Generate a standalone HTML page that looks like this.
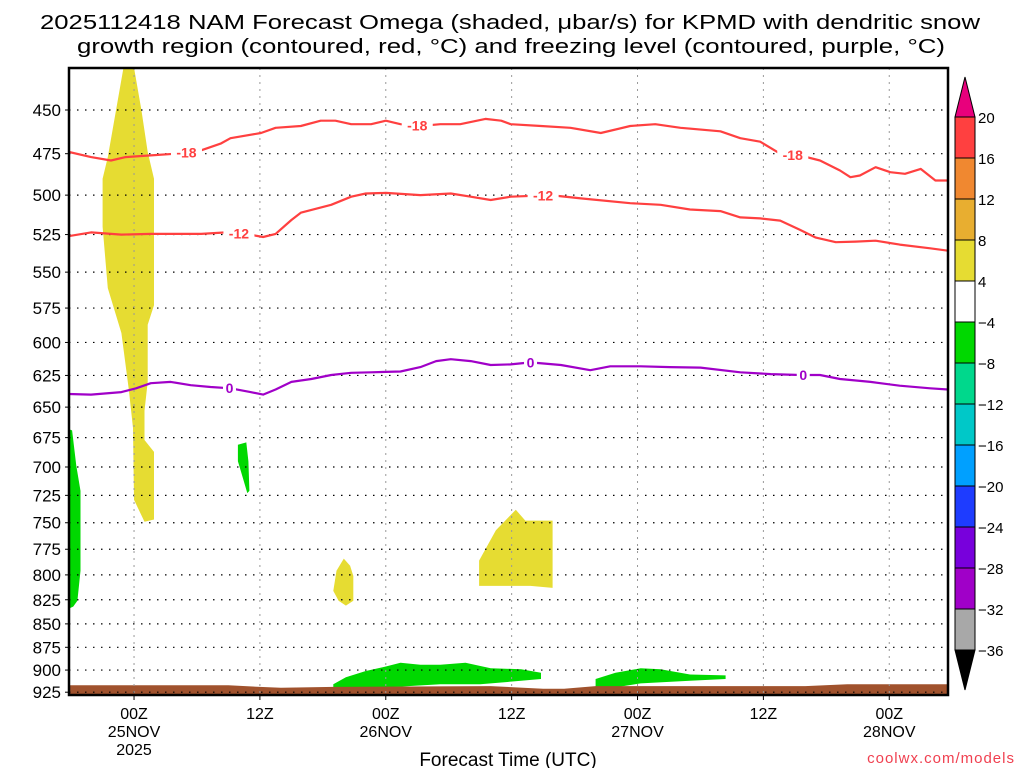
<!DOCTYPE html>
<html><head><meta charset="utf-8"><style>
html,body{margin:0;padding:0;background:#fff;}
svg{display:block;font-family:"Liberation Sans","DejaVu Sans",sans-serif;}
</style></head><body>
<svg id="c" width="1024" height="768" viewBox="0 0 1024 768" xmlns="http://www.w3.org/2000/svg">
<text x="510" y="29" font-size="20" text-anchor="middle" textLength="940" lengthAdjust="spacingAndGlyphs">2025112418 NAM Forecast Omega (shaded, μbar/s) for KPMD with dendritic snow</text>
<text x="511" y="53" font-size="20" text-anchor="middle" textLength="868" lengthAdjust="spacingAndGlyphs">growth region (contoured, red, °C) and freezing level (contoured, purple, °C)</text>
<g id="plot"></g>
<text x="508" y="766" font-size="19" text-anchor="middle">Forecast Time (UTC)</text>
<text x="1015" y="763" font-size="15" text-anchor="end" fill="#f04050" letter-spacing="1">coolwx.com/models</text>
<g id="cbar"></g>
</svg>
<script>
const pTicks=[450,475,500,525,550,575,600,625,650,675,700,725,750,775,800,825,850,875,900,925];
const timeTicks=[6,18,30,42,54,66,78];
const timeLabels=[["00Z","25NOV","2025"],["12Z"],["00Z","26NOV"],["12Z"],["00Z","27NOV"],["12Z"],["00Z","28NOV"]];
const m18H=[-0.2,1.9,3.8,5.2,7.6,10,12.4,14.3,15.2,18.1,19.5,21.9,23.8,25.2,26.7,28.6,30,31.4,33.3,35.2,37.1,39.5,41,41.9,44.8,47.6,50.5,53.3,55.7,58.1,61.9,63.8,65.7,67.6,69.5,71.4,73.3,74.3,75.2,76.7,78.1,79.5,81,82.4,83.6];
const m18P=[474,477,479,477,476,475,473,469,466,463,460,459,456,456,458,458,456,458,459,458,458,455,456,458,459,460,463,459,458,460,462,466,468,475,476,479,485,489,488,483,486,487,484,491,491];
const m12H=[-0.2,1.9,4.8,7.6,12.4,14.8,16.7,18.3,19.5,21,21.9,24.8,26.7,28.1,30,33.3,36.2,38.1,40,41.9,45.7,48.6,53.3,56.2,59,61.9,63.8,65.7,67.6,69.5,71,72.9,74.8,76.7,79,81.9,83.6];
const m12P=[526,523.6,525,524.6,524.6,523.6,524.6,526.6,524.6,515.6,511,506,501,499,498.6,500,499,501,503,501,500,502,505,506,509,510,514,514.6,516,522,527,530,529.6,529,531.6,534,535.6];
const fzH=[-0.2,1.9,4.8,6.2,7.6,9.5,11.4,13.3,15.2,17.1,18.3,19.5,21,22.9,24.8,26.7,28.6,31.4,33.3,34.8,36.2,38.1,40,41.9,43.8,46.7,49.5,51.4,54.3,57.1,60,63.8,66.7,69.5,71.4,73.3,76.2,79,81.9,83.6];
const fzP=[639.5,640,638,635,631,630,632.6,634,635,638,640,636,630,627.8,624.7,623,622.6,622,618.6,614,612.6,614,617,616.5,615,617,621,618,618,618.6,619,622.6,624,624.7,624.7,627.8,630,633,635,636];
const yellow1H=[5.0,6.0,6.7,7.3,7.9,7.9,7.3,7.3,7.0,7.0,7.9,7.9,7.0,6.0,5.9,5.5,4.8,3.5,3.0,3.0,3.5];
const yellow1P=[427,427,450,474,490,573,587,630,653,677,687,747,749,729,667,636,593,561,520,490,477];
const green1H=[-0.2,0.1,0.5,0.9,0.9,0.6,0.2,-0.2];
const green1P=[668,669,699,721,796,826,832,834];
const green2H=[15.9,16.7,16.9,17.0,16.8,16.2,15.9];
const green2P=[681,679,695,721,723,704,695];
const yellow2H=[26,26.6,26.9,26.9,26.2,25.5,25,25.3];
const yellow2P=[784,791,801,826,831,826,816,796];
const yellow3H=[38.9,40.5,42.4,43.3,45.9,45.9,43.8,38.9];
const yellow3P=[786,757,738,748,748,813,811,811];
const green3H=[25,26.2,28.1,30,31.4,33.3,35.2,37.6,40,42.9,44.8,44.8,42.9,39,35.2,25];
const green3P=[916,908,901,896,892,894,894,892,898,899,903,910,912,916,916,923];
const green4H=[50,51.9,54.3,56.2,59,62.4,62.4,59,54.3,50];
const green4P=[910,903,898,899,905,906,910,912,915,923];
const sfcH=[-0.2,15,18,20,25,40,45,47,50,55,70,74,83.6];
const sfcP=[917,917,919,920,919,918,921,921,918,918,918,916,916];
const cbLevels=["20","16","12","8","4","−4","−8","−12","−16","−20","−24","−28","−32","−36"];
const cbColors=["#ff4040","#f08830","#e8ae30","#e6dc32","#ffffff","#00d800","#00d88c","#00c8c8","#00a0ff","#1e3cff","#7800dc","#a000c8","#a8a8a8"];

const NS="http://www.w3.org/2000/svg";
const X0=69,X1=948,Y0=68,Y1=695;
const H0=-0.2,H1=83.6;
function xs(h){return X0+(h-H0)/(H1-H0)*(X1-X0);}
function ys(p){return 110+808*Math.log(p/450);}
function mk(tag,attrs,parent){const e=document.createElementNS(NS,tag);for(const k in attrs)e.setAttribute(k,attrs[k]);parent.appendChild(e);return e;}
const plot=document.getElementById('plot');
const svg=document.getElementById('c');
function poly(H,P,fill,name){
  const pts=H.map((h,i)=>xs(h).toFixed(1)+','+ys(P[i]).toFixed(1)).join(' ');
  const e=mk('polygon',{points:pts,fill:fill},plot);
  
  
}
const defs=mk('defs',{},svg);
const cp=mk('clipPath',{id:'clip'},defs);
mk('rect',{x:X0,y:Y0,width:X1-X0,height:Y1-Y0},cp);
plot.setAttribute('clip-path','url(#clip)');
poly(yellow1H,yellow1P,'#e6dc32','omega-shade-yellow-1');
poly(green1H,green1P,'#00d800','omega-shade-green-1');
poly(green2H,green2P,'#00d800','omega-shade-green-2');
poly(yellow2H,yellow2P,'#e6dc32','omega-shade-yellow-2');
poly(yellow3H,yellow3P,'#e6dc32','omega-shade-yellow-3');
poly(green3H,green3P,'#00d800','omega-shade-green-3');
poly(green4H,green4P,'#00d800','omega-shade-green-4');
{
  const H=sfcH.concat([H1,H0]);const P=sfcP.concat([1000,1000]);
  poly(H,P,'#a0522d','ground-surface');
}
pTicks.forEach(p=>{
  const g=mk('line',{x1:X0,x2:X1,y1:ys(p),y2:ys(p),stroke:'#000','stroke-width':1.2,'stroke-dasharray':'1.5,6.5'},plot);
  
  
});
timeTicks.forEach(h=>{
  const g=mk('line',{x1:xs(h),x2:xs(h),y1:Y0,y2:Y1,stroke:'#999','stroke-width':1,'stroke-dasharray':'2,5'},plot);
  
  
});
function line(H,P,col,name){
  const d=H.map((h,i)=>(i?'L':'M')+xs(h).toFixed(1)+','+ys(P[i]).toFixed(1)).join('');
  const e=mk('path',{d:d,fill:'none',stroke:col,'stroke-width':2.2,'stroke-linejoin':'round'},plot);
  
  
}
line(m18H,m18P,'#ff4040','contour-minus18');
line(m12H,m12P,'#ff4040','contour-minus12');
line(fzH,fzP,'#a000c8','freezing-level-contour');
function interp(H,P,h){for(let i=1;i<H.length;i++){if(h<=H[i]){const t=(h-H[i-1])/(H[i]-H[i-1]);return P[i-1]+t*(P[i]-P[i-1]);}}return P[P.length-1];}
function clabel(H,P,h,txt,col,name){
  const x=xs(h),y=ys(interp(H,P,h));
  const r=mk('rect',{x:x-txt.length*4.5-2,y:y-7,width:txt.length*9+4,height:14,fill:'#fff'},plot);
  
  
  const t=mk('text',{x:x,y:y+5,'font-size':14,'font-weight':'bold','text-anchor':'middle',fill:col},plot);
  t.textContent=txt;
  
  
}
clabel(m18H,m18P,11,'-18','#ff4040','contour-label');
clabel(m18H,m18P,33,'-18','#ff4040','contour-label');
clabel(m18H,m18P,68.8,'-18','#ff4040','contour-label');
clabel(m12H,m12P,16,'-12','#ff4040','contour-label');
clabel(m12H,m12P,45,'-12','#ff4040','contour-label');
clabel(fzH,fzP,15.1,'0','#a000c8','contour-label');
clabel(fzH,fzP,43.8,'0','#a000c8','contour-label');
clabel(fzH,fzP,69.8,'0','#a000c8','contour-label');
const fr=mk('rect',{x:X0,y:Y0,width:X1-X0,height:Y1-Y0,fill:'none',stroke:'#000','stroke-width':2.5},svg);


pTicks.forEach(p=>{
  const y=ys(p);
  mk('line',{x1:X0-4,x2:X0,y1:y,y2:y,stroke:'#000','stroke-width':1},svg);
  const t=mk('text',{x:X0-8,y:y+6,'font-size':17,'text-anchor':'end'},svg);
  t.textContent=p;
  
  
});
timeTicks.forEach((h,i)=>{
  const x=xs(h);
  mk('line',{x1:x,x2:x,y1:Y1,y2:Y1+5,stroke:'#000','stroke-width':1},svg);
  timeLabels[i].forEach((s,j)=>{
    const t=mk('text',{x:x,y:719+j*18,'font-size':16,'text-anchor':'middle'},svg);
    t.textContent=s;
    
    
  });
});
const cb=document.getElementById('cbar');
const CX=955,CW=20,CT=117,CS=(650-117)/13;
mk('polygon',{points:`${CX},${CT} ${CX+CW},${CT} ${CX+CW/2},${CT-40}`,fill:'#e8007c',stroke:'#000','stroke-width':1},cb);
cbColors.forEach((c,i)=>{
  const r=mk('rect',{x:CX,y:CT+i*CS,width:CW,height:CS,fill:c,stroke:'#000','stroke-width':1},cb);
  
  
});
mk('polygon',{points:`${CX},650 ${CX+CW},650 ${CX+CW/2},690`,fill:'#000',stroke:'#000','stroke-width':1},cb);
cbLevels.forEach((s,i)=>{
  const t=mk('text',{x:CX+CW+3,y:CT+i*CS+6,'font-size':15},cb);
  t.textContent=s;
  
  
});
</script>
</body></html>
